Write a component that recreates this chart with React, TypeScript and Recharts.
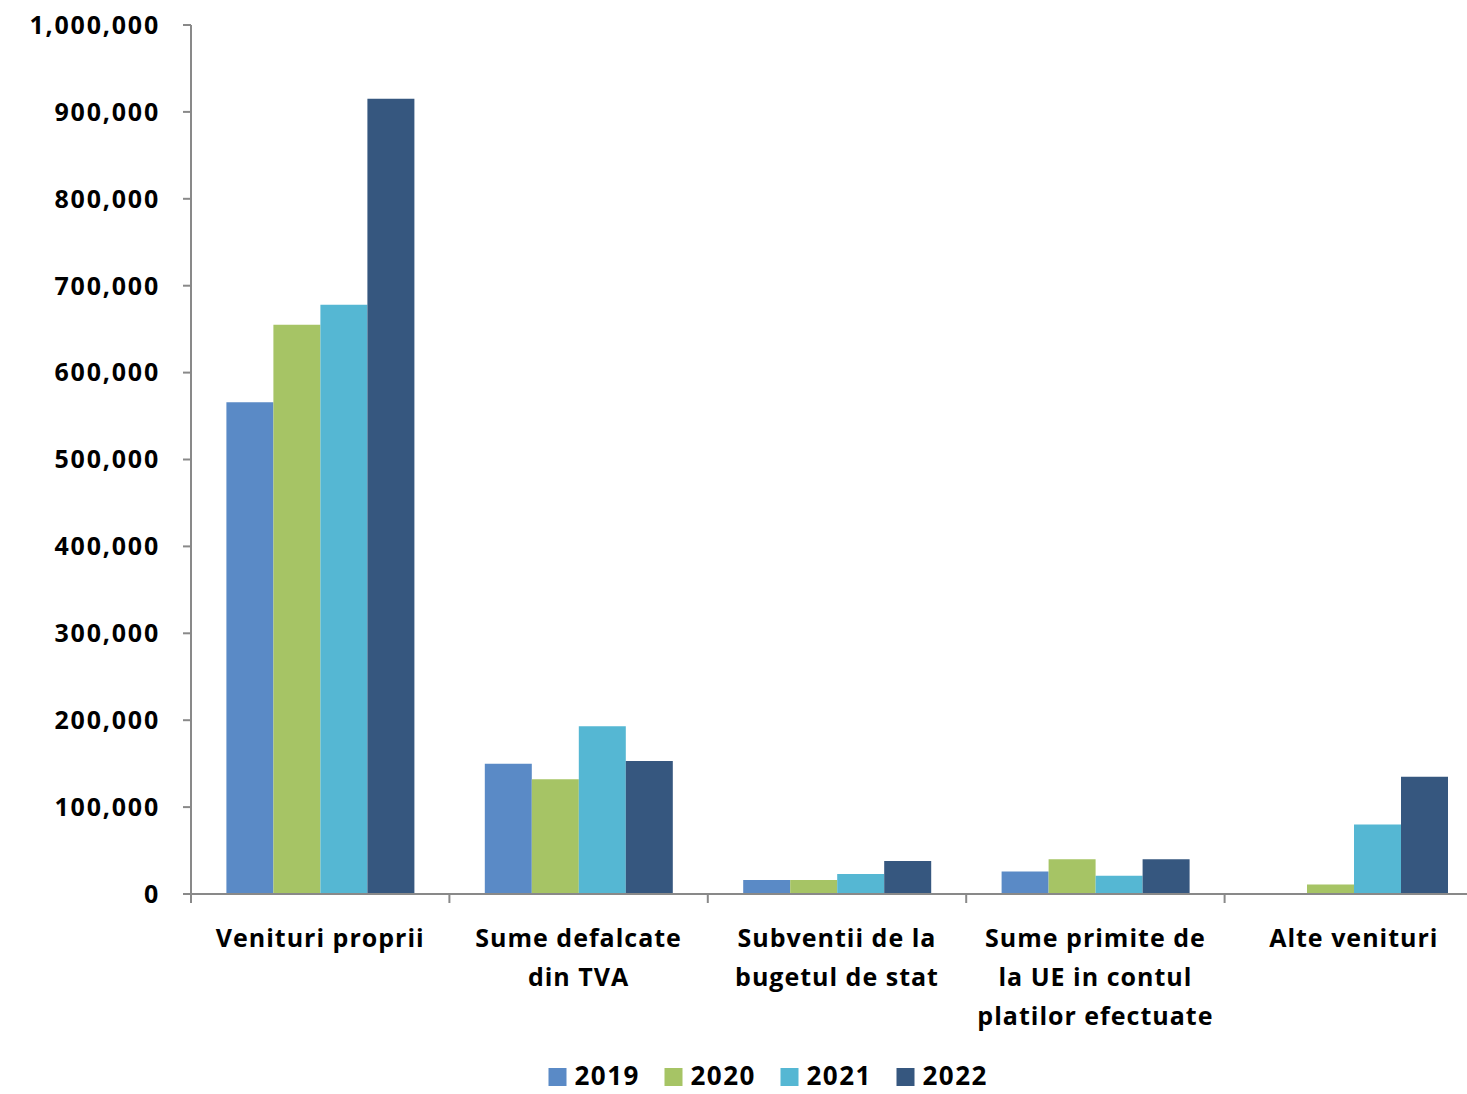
import React from 'react';
import { BarChart, Bar, XAxis, YAxis, Customized } from 'recharts';

const categories = [
  'Venituri proprii',
  'Sume defalcate din TVA',
  'Subventii de la bugetul de stat',
  'Sume primite de la UE in contul platilor efectuate',
  'Alte venituri',
];

const categoryLines: string[][] = [
  ['Venituri proprii'],
  ['Sume defalcate', 'din TVA'],
  ['Subventii de la', 'bugetul de stat'],
  ['Sume primite de', 'la UE in contul', 'platilor efectuate'],
  ['Alte venituri'],
];

const years = ['2019', '2020', '2021', '2022'];
const values2019 = [566000, 150000, 16000, 26000, 0];
const values2020 = [655000, 132000, 16000, 40000, 11000];
const values2021 = [678000, 193000, 23000, 21000, 80000];
const values2022 = [915000, 153000, 38000, 40000, 135000];
const yTicks = [0, 100000, 200000, 300000, 400000, 500000, 600000, 700000, 800000, 900000, 1000000];

const colors = ['#5A8AC6', '#A6C465', '#55B7D3', '#36577F'];

const data = categories.map((c, i) => ({
  name: c,
  '2019': values2019[i],
  '2020': values2020[i],
  '2021': values2021[i],
  '2022': values2022[i],
}));

const CHART_W = 1467;
const CHART_H = 1094;
const Y_AXIS_W = 191;
const OVERHANG = 16;
const BAND = (CHART_W + OVERHANG - Y_AXIS_W) / categories.length;
const FONT = '"Open Sans", sans-serif';
const AXIS_COLOR = '#898989';

const LEGEND_CENTER_X = 768;
const LEGEND_Y = 1075;
const LEGEND_STEP = 116;
const LEGEND_SQ = 18;
const LEGEND_TEXT_W = 65;

const XTick = (props: any) => {
  const { x, y, index } = props;
  const lines = categoryLines[index] || [];
  const half = BAND / 2;
  return (
    <g>
      <line x1={x - half} y1={y} x2={x - half} y2={y + 9} stroke={AXIS_COLOR} strokeWidth={2} />
      {lines.map((l, i) => (
        <text
          key={i}
          x={x}
          y={y + 43 + i * 39}
          textAnchor="middle"
          dominantBaseline="central"
          fontFamily={FONT}
          fontWeight={700}
          fontSize={25}
          letterSpacing={1}
          fill="#000"
        >
          {l}
        </text>
      ))}
    </g>
  );
};

const LegendSvg = () => {
  const total = (years.length - 1) * LEGEND_STEP + LEGEND_SQ + 8 + LEGEND_TEXT_W;
  const start = LEGEND_CENTER_X - total / 2;
  return (
    <g className="legend">
      {years.map((y, i) => {
        const x0 = start + i * LEGEND_STEP;
        return (
          <g key={y}>
            <rect x={x0} y={LEGEND_Y - LEGEND_SQ / 2 + 2} width={LEGEND_SQ} height={LEGEND_SQ} fill={colors[i]} />
            <text
              x={x0 + LEGEND_SQ + 8}
              y={LEGEND_Y}
              dominantBaseline="central"
              fontFamily={FONT}
              fontWeight={700}
              fontSize={26}
              letterSpacing={1.5}
              fill="#000"
            >
              {y}
            </text>
          </g>
        );
      })}
    </g>
  );
};

export default function App() {
  return (
    <div
      style={{
        position: 'absolute',
        left: 0,
        top: 0,
        width: CHART_W,
        height: CHART_H,
        background: '#fff',
      }}
    >
      <BarChart
        width={CHART_W}
        height={CHART_H}
        data={data}
        margin={{ top: 25, right: 0, left: 0, bottom: 60 }}
        barCategoryGap="13.7%"
        barGap={0}
      >
        <YAxis
          width={Y_AXIS_W}
          domain={[0, 1000000]}
          ticks={yTicks}
          interval={0}
          tickFormatter={(v: number) => v.toLocaleString('en-US')}
          axisLine={{ stroke: AXIS_COLOR, strokeWidth: 2 }}
          tickLine={{ stroke: AXIS_COLOR, strokeWidth: 2 }}
          tickSize={8}
          tickMargin={23}
          tick={{ fill: '#000', fontFamily: FONT, fontWeight: 700, fontSize: 25, letterSpacing: 1.8 }}
        />
        <XAxis
          dataKey="name"
          height={140}
          interval={0}
          padding={{ left: 0, right: -OVERHANG }}
          tickLine={false}
          tickSize={0}
          tickMargin={0}
          axisLine={{ stroke: AXIS_COLOR, strokeWidth: 2 }}
          tick={<XTick />}
        />
        {years.map((y, i) => (
          <Bar key={y} dataKey={y} fill={colors[i]} isAnimationActive={false} />
        ))}
        <Customized component={LegendSvg} />
      </BarChart>
    </div>
  );
}
